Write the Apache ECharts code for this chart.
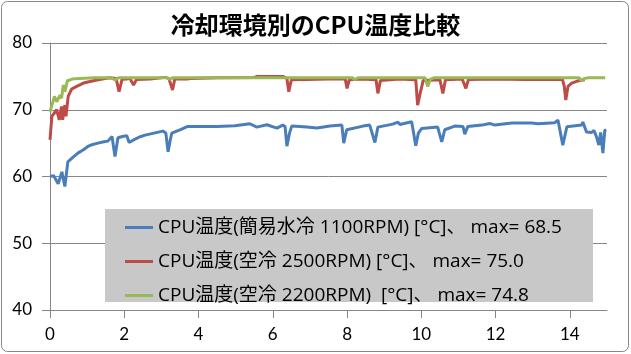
<!DOCTYPE html>
<html><head><meta charset="utf-8">
<script src="https://cdn.jsdelivr.net/npm/echarts@6/dist/echarts.min.js"></script>
<style>html,body{margin:0;padding:0;background:#fff}#c{width:631px;height:354px}</style>
</head><body><div id="c"></div>
<script>
const titleText = '冷却環境別のCPU温度比較';
const seriesNames = [
  'CPU温度(簡易水冷 1100RPM) [°C]、 max= 68.5',
  'CPU温度(空冷 2500RPM) [°C]、 max= 75.0',
  'CPU温度(空冷 2200RPM)  [°C]、 max= 74.8'
];
const xTicks = [0, 2, 4, 6, 8, 10, 12, 14];
const yTicks = [40, 50, 60, 70, 80];

const blueT = [0,0.1,0.22,0.27,0.32,0.40,0.48,0.6,0.75,0.9,1.02,1.15,1.29,1.45,1.56,1.67,1.75,1.83,1.95,2.07,2.13,2.29,2.45,2.56,2.8,3.04,3.12,3.18,3.24,3.28,3.5,3.71,4.0,4.5,4.98,5.38,5.57,5.84,6.11,6.27,6.33,6.38,6.45,6.51,6.92,7.19,7.54,7.86,7.91,7.99,8.43,8.61,8.75,8.83,9.23,9.37,9.42,9.74,9.78,9.85,9.92,10.01,10.44,10.55,10.63,10.90,11.12,11.17,11.25,11.63,11.84,11.98,12.44,12.97,13.14,13.59,13.68,13.81,13.92,14.32,14.35,14.45,14.59,14.65,14.72,14.78,14.83,14.89,14.94,14.98];
const blueV = [60.0,60.1,58.9,59.8,60.7,58.5,62.2,62.8,63.5,64.0,64.5,64.8,65.0,65.2,65.3,66.0,63.0,65.8,66.0,66.1,65.1,65.6,66.0,66.2,66.5,66.8,66.5,63.7,65.5,66.5,67.0,67.5,67.5,67.5,67.6,67.9,67.4,67.75,67.25,67.7,67.5,64.55,66.5,67.55,67.4,67.25,67.55,67.7,65.0,67.0,67.55,67.7,65.1,67.4,67.85,68.15,67.8,68.2,68.0,64.6,66.5,67.2,67.4,65.2,67.0,67.55,67.5,66.35,67.5,67.7,67.95,67.7,68.0,68.0,67.9,68.05,68.45,64.7,67.45,67.7,68.15,66.65,66.6,66.9,65.9,64.7,66.6,63.5,66.9,67.0];

const redT = [0,0.05,0.18,0.25,0.31,0.34,0.40,0.43,0.49,0.58,0.72,0.9,1.26,1.6,1.62,1.78,1.86,1.94,2.06,2.15,2.25,2.33,2.7,3.1,3.2,3.3,3.36,3.7,3.75,3.8,4.5,5.5,5.58,6.27,6.38,6.43,6.5,6.9,7.5,7.95,8.0,8.06,8.4,8.78,8.83,8.9,9.4,9.85,9.9,9.97,10.05,10.5,10.58,10.65,11.1,11.2,11.27,12.0,12.8,13.8,13.85,13.89,13.95,14.05,14.2,14.4];
const redV = [65.5,69.0,70.0,68.5,70.5,68.5,70.7,69.0,72.0,73.1,73.5,74.0,74.45,74.8,74.9,74.7,72.7,74.55,74.6,74.7,73.7,74.55,74.6,74.85,74.7,72.95,74.6,74.6,74.45,74.7,74.8,74.85,75.0,75.0,74.7,72.7,74.5,74.55,74.6,74.6,73.2,74.5,74.6,74.5,72.45,74.4,74.6,74.5,70.7,72.5,74.4,74.5,72.45,74.5,74.6,73.2,74.55,74.6,74.55,74.55,73.5,71.45,73.5,74.0,74.3,74.5];

const greenT = [0,0.12,0.18,0.27,0.31,0.36,0.40,0.47,0.6,0.8,1.2,1.65,1.75,1.85,3.15,3.23,3.3,8.15,8.2,8.3,10.1,10.17,10.25,10.35,14.25,14.3,14.4,14.5,14.95];
const greenV = [69.7,72.0,71.2,72.2,71.7,73.7,72.7,74.35,74.6,74.7,74.8,74.8,74.45,74.8,74.8,74.55,74.8,74.8,74.5,74.8,74.8,73.5,74.6,74.8,74.8,74.35,74.7,74.8,74.8];

const colors = ['#4a7ebb', '#be4b48', '#98b954'];
const pairs = (t, v) => t.map((x, i) => [x, v[i]]);

const chart = echarts.init(document.getElementById('c'));
const axisColor = '#868686';
const numFont = 'Lato, "Noto Sans CJK JP", sans-serif';
chart.setOption({
  animation: false,
  backgroundColor: '#ffffff',
  title: {
    text: titleText, left: 'center', top: 8,
    textStyle: { fontSize: 24, fontWeight: 'bold', color: '#000', fontFamily: '"Noto Sans CJK JP", sans-serif' }
  },
  grid: { left: 50, right: 24, top: 43, bottom: 44 },
  xAxis: {
    type: 'value', min: 0, max: 15,
    axisLine: { show: true, lineStyle: { color: axisColor, width: 1 } },
    axisTick: { show: true, customValues: xTicks, length: 8, lineStyle: { color: axisColor } },
    axisLabel: { customValues: xTicks, margin: 16, fontSize: 17, color: '#000', fontFamily: numFont },
    splitLine: { show: false }
  },
  yAxis: {
    type: 'value', min: 40, max: 80, interval: 10,
    axisLine: { show: true, lineStyle: { color: axisColor, width: 1 } },
    axisTick: { show: true, inside: false, length: 8, lineStyle: { color: axisColor } },
    axisLabel: { margin: 18, fontSize: 17, color: '#000', fontFamily: numFont },
    splitLine: { show: true, lineStyle: { color: axisColor, width: 1 } }
  },
  legend: {
    orient: 'vertical', left: 125, top: 218, itemGap: 15, padding: 0,
    icon: 'rect', itemWidth: 28, itemHeight: 3, itemTextGap: 3, z: 10,
    textStyle: { fontSize: 19, lineHeight: 16, color: '#000', fontFamily: '"Open Sans", "Noto Sans CJK JP", sans-serif' },
    data: seriesNames
  },
  graphic: [
    { type: 'rect', z: 5, shape: { x: 105, y: 209, width: 488, height: 93 }, style: { fill: '#c8c8c8' } },
    { type: 'rect', z: 0, shape: { x: 1.5, y: 1.5, width: 627, height: 350, r: 6 }, style: { fill: null, stroke: '#868686', lineWidth: 1 } }
  ],
  series: [
    { name: seriesNames[0], type: 'line', data: pairs(blueT, blueV), showSymbol: false, lineStyle: { width: 3, color: colors[0] }, itemStyle: { color: colors[0] } },
    { name: seriesNames[1], type: 'line', data: pairs(redT, redV), showSymbol: false, lineStyle: { width: 3, color: colors[1] }, itemStyle: { color: colors[1] } },
    { name: seriesNames[2], type: 'line', data: pairs(greenT, greenV), showSymbol: false, lineStyle: { width: 3, color: colors[2] }, itemStyle: { color: colors[2] } }
  ]
});
</script></body></html>
